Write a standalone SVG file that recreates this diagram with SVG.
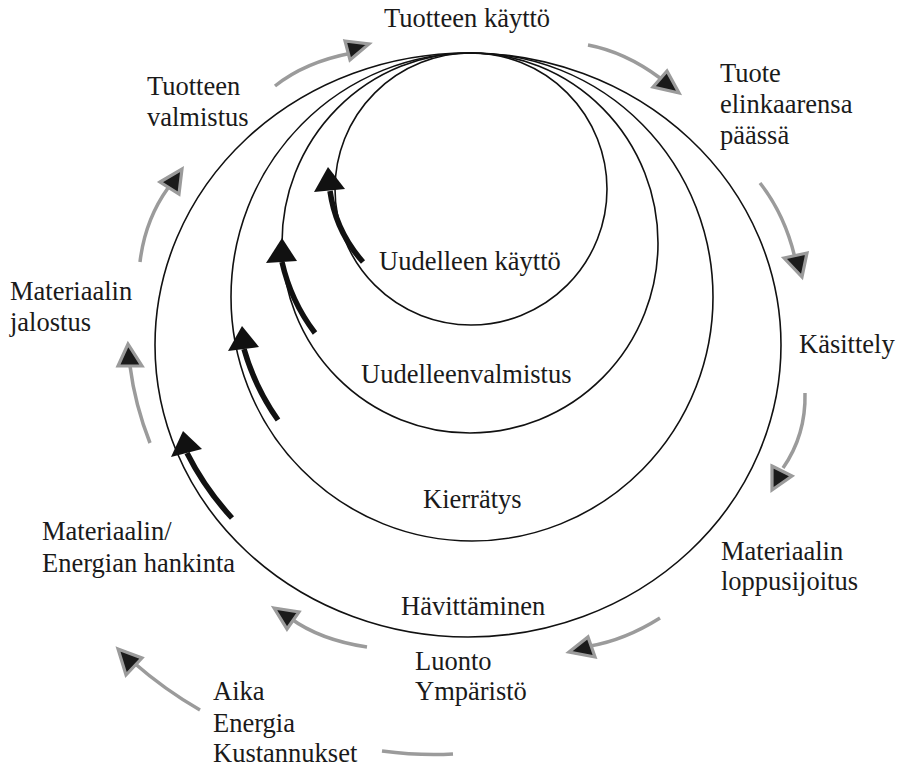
<svg xmlns="http://www.w3.org/2000/svg" width="897" height="767" viewBox="0 0 897 767">
<style>
.ring{fill:none;stroke:#111;stroke-width:1.6}
.thick{fill:none;stroke:#111;stroke-width:5.5}
.bhead{fill:#111;stroke:none}
.gline{fill:none;stroke:#9b9b9b;stroke-width:3.5;stroke-linecap:butt}
.ghead{fill:#1a1a1a;stroke:#9b9b9b;stroke-width:3.2;stroke-linejoin:miter}
.lbl{font-size:26.5px;fill:#1a1a1a}
</style>
<rect width="897" height="767" fill="#fff"/>
<g id="rings">
<ellipse id="ring-reuse" class="ring" cx="471" cy="189" rx="136" ry="136"/>
<ellipse id="ring-reman" class="ring" cx="470" cy="243" rx="188" ry="190"/>
<ellipse id="ring-recycle" class="ring" cx="472" cy="297" rx="241" ry="244"/>
<ellipse id="ring-disposal" class="ring" cx="468" cy="345" rx="313" ry="292"/>
</g>
<g id="connectors">
<g id="inner-arrows">
<path class="thick" d="M363,262 A135 135 0 0 1 330,191"/>
<polygon class="bhead" points="314,192 328,167 345,189"/>
<path class="thick" d="M315,333 A185 185 0 0 1 282,262"/>
<polygon class="bhead" points="266,263 282,238 297,261"/>
<path class="thick" d="M278,420 A235 235 0 0 1 244,349"/>
<polygon class="bhead" points="228,351 242,326 259,347"/>
<path class="thick" d="M232,518 A285 285 0 0 1 187,453"/>
<polygon class="bhead" points="171,457 183,431 202,449"/>
</g>
<g id="outer-arrows">
<path class="gline" d="M275,86 Q305,62 352,53"/>
<polygon class="ghead" points="345,41 369,44 350,60"/>
<path class="gline" d="M588,45 Q625,52 660,78"/>
<polygon class="ghead" points="653,87 667,71 679,93"/>
<path class="gline" d="M760,183 Q785,215 795,258"/>
<polygon class="ghead" points="784,258 807,253 802,277"/>
<path class="gline" d="M805,393 Q806,435 783,468"/>
<polygon class="ghead" points="772,466 792,476 772,490"/>
<path class="gline" d="M660,618 Q625,640 590,646"/>
<polygon class="ghead" points="569,652 588,637 595,657"/>
<path class="gline" d="M367,647 Q320,640 290,618"/>
<polygon class="ghead" points="274,608 299,612 287,629"/>
<path class="gline" d="M200,710 Q165,690 133,662"/>
<polygon class="ghead" points="118,649 142,658 126,675"/>
<path class="gline" d="M382,751 Q420,756 453,754"/>
<path class="gline" d="M150,443 Q135,405 130,366"/>
<polygon class="ghead" points="118,366 128,344 142,366"/>
<path class="gline" d="M140,262 Q145,220 168,188"/>
<polygon class="ghead" points="160,182 182,169 179,194"/>
</g>
</g>
<g id="labels" font-family="'Liberation Serif', 'Times New Roman', 'DejaVu Serif', serif">
<g id="n-use"><text class="lbl" x="384" y="27">Tuotteen käyttö</text></g>
<g id="n-eol"><text class="lbl" x="720" y="82">Tuote</text><text class="lbl" x="720" y="113">elinkaarensa</text><text class="lbl" x="720" y="144">päässä</text></g>
<g id="n-handling"><text class="lbl" x="799" y="353">Käsittely</text></g>
<g id="n-final"><text class="lbl" x="721" y="560">Materiaalin</text><text class="lbl" x="721" y="590">loppusijoitus</text></g>
<g id="n-disposal"><text class="lbl" x="401" y="615">Hävittäminen</text></g>
<g id="n-nature"><text class="lbl" x="415" y="670">Luonto</text><text class="lbl" x="415" y="700">Ympäristö</text></g>
<g id="n-resources"><text class="lbl" x="213" y="700">Aika</text><text class="lbl" x="213" y="732">Energia</text><text class="lbl" x="213" y="762">Kustannukset</text></g>
<g id="n-acquisition"><text class="lbl" x="42" y="540">Materiaalin/</text><text class="lbl" x="42" y="572">Energian hankinta</text></g>
<g id="n-refining"><text class="lbl" x="10" y="300">Materiaalin</text><text class="lbl" x="10" y="331">jalostus</text></g>
<g id="n-manufacture"><text class="lbl" x="147" y="95">Tuotteen</text><text class="lbl" x="147" y="126">valmistus</text></g>
<g id="n-reuse"><text class="lbl" x="379" y="270">Uudelleen käyttö</text></g>
<g id="n-reman"><text class="lbl" x="361" y="383">Uudelleenvalmistus</text></g>
<g id="n-recycle"><text class="lbl" x="423" y="508">Kierrätys</text></g>
</g>
</svg>
